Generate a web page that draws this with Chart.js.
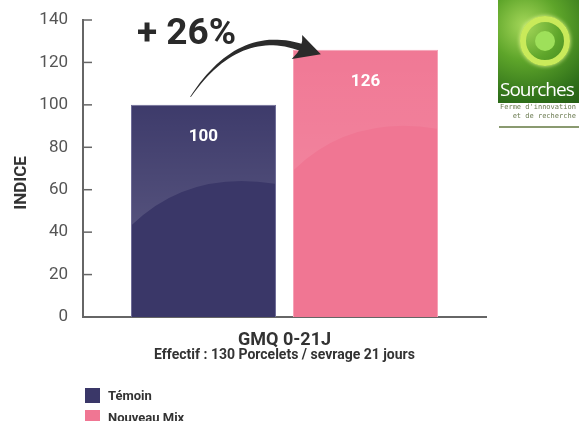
<!DOCTYPE html>
<html>
<head>
<meta charset="utf-8">
<script src="https://cdn.jsdelivr.net/npm/chart.js@4/dist/chart.umd.min.js"></script>
<style>
  html, body { margin: 0; padding: 0; background: #fff; }
  body { width: 579px; height: 421px; position: relative; overflow: hidden; font-family: Roboto, sans-serif; }
  #wrap { position: absolute; left: 0; top: 0; width: 579px; height: 421px; }
  .legend { position: absolute; left: 85px; font: bold 13px Roboto, sans-serif; color: #333; }
  .legend div { position: relative; height: 15px; margin-bottom: 7px; line-height: 15px; padding-left: 23px; }
  .legend span { position: absolute; left: 0; top: 0; width: 15px; height: 15px; }
  .logo { position: absolute; left: 498px; top: 0; width: 90px; height: 103px;
    background: radial-gradient(circle at 30% 25%, #a6d85a 0%, #5ea52a 35%, #2f701a 75%, #245a14 100%); overflow: hidden; }
  .ring { position: absolute; left: 22px; top: 16px; width: 38px; height: 38px; border-radius: 50%;
    border: 6px solid #c9ea5a; box-shadow: 0 0 4px #e8f890; }
  .dot { position: absolute; left: 37px; top: 31px; width: 20px; height: 20px; border-radius: 50%; background: #9ee05a; }
  .logo .name { position: absolute; left: 2px; top: 76px; font: 19px "Open Sans", sans-serif; color: #fff; letter-spacing: -1px; }
  .sub { position: absolute; left: 500px; top: 103px; font: 7px "DejaVu Sans Mono", monospace; color: #6a7a50; line-height: 9px; }
  .line { position: absolute; left: 499px; top: 126px; width: 90px; height: 2px; background: #8a9a70; }
</style>
</head>
<body>
<div id="wrap"><canvas id="barChart"></canvas></div>
<div class="legend" id="legend" style="top:388px"></div>
<div class="logo"><div class="ring"></div><div class="dot"></div><div class="name">Sourches</div></div>
<div class="sub">Ferme d'innovation<br>&nbsp;&nbsp;&nbsp;et de recherche</div>
<div class="line"></div>
<script>
const categories = ['GMQ 0-21J'];
const seriesLabels = ['Témoin', 'Nouveau Mix'];
const temoinValues = [100];
const nouveauMixValues = [126];
const seriesColors = ['#3a3768', '#f07693'];
const borderColors = ['#6f6d98', '#f6a2b6'];
const yMax = 140;
const yStep = 20;
const gainLabel = '+ 26%';
const subtitleText = 'Effectif : 130 Porcelets / sevrage 21 jours';
const yTitle = 'INDICE';

// legend (html)
const legendEl = document.getElementById('legend');
seriesLabels.forEach((lab, i) => {
  const d = document.createElement('div');
  d.innerHTML = '<span style="background:' + seriesColors[i] + '"></span>' + lab;
  legendEl.appendChild(d);
});

// tick marks pointing inward + y title
const axisExtras = {
  id: 'axisExtras',
  afterDraw(chart) {
    const ctx = chart.ctx;
    const y = chart.scales.y;
    ctx.save();
    ctx.strokeStyle = '#666';
    ctx.lineWidth = 1.5;
    y.ticks.forEach(t => {
      const py = y.getPixelForValue(t.value);
      ctx.beginPath();
      ctx.moveTo(y.right, py);
      ctx.lineTo(y.right + 9, py);
      ctx.stroke();
    });
    ctx.translate(22, 183);
    ctx.rotate(-Math.PI / 2);
    ctx.fillStyle = '#333';
    ctx.font = 'bold 17px Roboto';
    ctx.textAlign = 'center';
    ctx.textBaseline = 'middle';
    ctx.fillText(yTitle, 0, 0);
    ctx.restore();
  }
};

// glossy highlight, value labels, arrow
const barDecor = {
  id: 'barDecor',
  afterDatasetsDraw(chart) {
    const ctx = chart.ctx;
    const bars = chart.data.datasets.map((ds, i) => chart.getDatasetMeta(i).data[0]);
    ctx.save();
    bars.forEach((b, i) => {
      const l = b.x - b.width / 2, r = b.x + b.width / 2, top = b.y, w = b.width;
      const g = ctx.createLinearGradient(0, top, 0, top + 120);
      g.addColorStop(0, 'rgba(255,255,255,0.02)');
      g.addColorStop(1, i === 0 ? 'rgba(255,255,255,0.13)' : 'rgba(255,255,255,0.09)');
      ctx.fillStyle = g;
      ctx.beginPath();
      ctx.moveTo(l + 1, top + 1);
      ctx.lineTo(r - 1, top + 1);
      ctx.lineTo(r - 1, top + 79);
      ctx.quadraticCurveTo(l + 0.4 * w, top + 65, l + 1, top + 120);
      ctx.closePath();
      ctx.fill();

      const v = chart.data.datasets[i].data[0];
      ctx.fillStyle = '#fff';
      ctx.font = 'bold 17px Roboto';
      ctx.textAlign = 'center';
      ctx.textBaseline = 'middle';
      ctx.fillText(v, b.x, top + 32);
    });

    // arrow from first bar to second
    const a = bars[0], p = bars[1];
    const S = { x: a.x - 13, y: a.y - 8 };
    const H = { x: p.x - p.width / 2 + 9, y: p.y - 2 };
    const C = { x: S.x + 48, y: p.y - 24 };
    const n = 30, left = [], right = [];
    for (let k = 0; k <= n; k++) {
      const t = k / n;
      const x = (1 - t) * (1 - t) * S.x + 2 * t * (1 - t) * C.x + t * t * H.x;
      const y = (1 - t) * (1 - t) * S.y + 2 * t * (1 - t) * C.y + t * t * H.y;
      const dx = 2 * (1 - t) * (C.x - S.x) + 2 * t * (H.x - C.x);
      const dy = 2 * (1 - t) * (C.y - S.y) + 2 * t * (H.y - C.y);
      const len = Math.hypot(dx, dy);
      const hw = 0.4 + 3.2 * t;
      left.push([x - dy / len * hw, y + dx / len * hw]);
      right.push([x + dy / len * hw, y - dx / len * hw]);
    }
    ctx.fillStyle = '#2b2b2b';
    ctx.beginPath();
    left.forEach((pt, k) => k ? ctx.lineTo(pt[0], pt[1]) : ctx.moveTo(pt[0], pt[1]));
    right.reverse().forEach(pt => ctx.lineTo(pt[0], pt[1]));
    ctx.closePath();
    ctx.fill();
    // head
    const dx = H.x - C.x, dy = H.y - C.y, len = Math.hypot(dx, dy);
    const ux = dx / len, uy = dy / len, nx = -uy, ny = ux;
    const tip = { x: H.x + ux * 20, y: H.y + uy * 20 };
    ctx.beginPath();
    ctx.moveTo(tip.x, tip.y);
    ctx.lineTo(H.x - ux * 4 - nx * 12, H.y - uy * 4 - ny * 12);
    ctx.quadraticCurveTo(H.x + ux * 2, H.y + uy * 2, H.x - ux * 6 + nx * 14, H.y - uy * 6 + ny * 14);
    ctx.closePath();
    ctx.fill();

    ctx.fillStyle = '#2a2a2a';
    ctx.font = 'bold 37px Roboto';
    ctx.textAlign = 'left';
    ctx.textBaseline = 'alphabetic';
    ctx.fillText(gainLabel, 137, 44);
    ctx.restore();
  }
};

const ctx = document.getElementById('barChart').getContext('2d');
new Chart(ctx, {
  type: 'bar',
  data: {
    labels: categories,
    datasets: [
      {
        label: seriesLabels[0],
        data: temoinValues,
        backgroundColor: seriesColors[0],
        borderColor: borderColors[0],
        borderWidth: 1,
        borderSkipped: 'bottom',
        categoryPercentage: 0.804,
        barPercentage: 0.895
      },
      {
        label: seriesLabels[1],
        data: nouveauMixValues,
        backgroundColor: seriesColors[1],
        borderColor: borderColors[1],
        borderWidth: 1,
        borderSkipped: 'bottom',
        categoryPercentage: 0.804,
        barPercentage: 0.895
      }
    ]
  },
  options: {
    responsive: true,
    maintainAspectRatio: false,
    animation: false,
    layout: { padding: { left: 0, right: 93, top: 20, bottom: 44 } },
    scales: {
      x: {
        grid: { display: false },
        border: { display: true, color: '#666', width: 2 },
        ticks: { color: '#333', font: { family: 'Roboto', size: 18, weight: 'bold' }, padding: 5 },
        title: {
          display: true,
          text: subtitleText,
          color: '#333',
          font: { family: 'Roboto', size: 14, weight: 'bold' },
          padding: { top: 0, bottom: 13 }
        },
        afterFit: function(scale) { scale.height = 60; }
      },
      y: {
        min: 0,
        max: yMax,
        grid: { display: false },
        border: { display: true, color: '#666', width: 2 },
        ticks: { stepSize: yStep, color: '#555', font: { family: 'Roboto', size: 17 }, padding: 7 },
        afterFit: function(scale) { scale.width = 83; }
      }
    },
    plugins: {
      legend: { display: false },
      tooltip: { enabled: false }
    }
  },
  plugins: [axisExtras, barDecor]
});
</script>
</body>
</html>
